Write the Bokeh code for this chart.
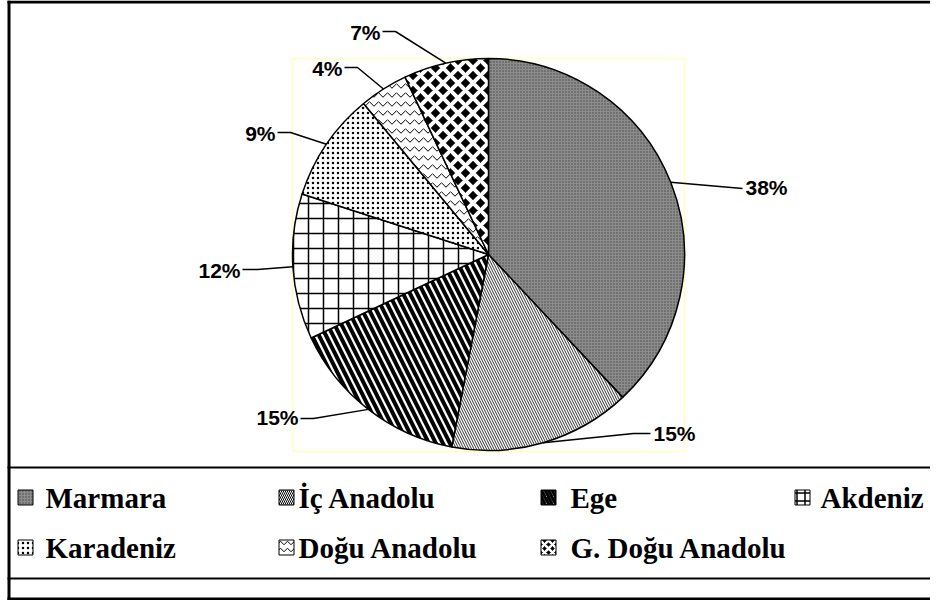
import math
from bokeh.plotting import figure
from bokeh.models import Range1d
from bokeh.embed import file_html
from bokeh.resources import INLINE
from bokeh.core.properties import value

# ---------------- data ----------------
regions = ["Marmara", "İç Anadolu", "Ege", "Akdeniz", "Karadeniz", "Doğu  Anadolu", "G. Doğu Anadolu"]
shares = [38, 15, 15, 12, 9, 4, 7]
pct_labels = ["38%", "15%", "15%", "12%", "9%", "4%", "7%"]

# ---------------- styles ----------------
styles = [
    dict(fill_color="#8c8c8c", hatch_pattern="dot", hatch_scale=3, hatch_weight=0.8, hatch_color="#444444"),
    dict(fill_color="white", hatch_pattern="left_diagonal_line", hatch_scale=5, hatch_weight=0.8, hatch_color="black"),
    dict(fill_color="white", hatch_pattern="left_diagonal_line", hatch_scale=14, hatch_weight=4, hatch_color="black"),
    dict(fill_color="white", hatch_pattern="cross", hatch_scale=15, hatch_weight=1.5, hatch_color="black"),
    dict(fill_color="white", hatch_pattern="dot", hatch_scale=5, hatch_weight=2, hatch_color="black"),
    dict(fill_color="white", hatch_pattern="horizontal_wave", hatch_scale=9, hatch_weight=1, hatch_color="black"),
    dict(fill_color="black", hatch_pattern="diagonal_cross", hatch_scale=15, hatch_weight=4, hatch_color="white"),
]
swatch_scale = [3, 4, 7, 8, 5, 7, 8]
swatch_weight = [0.8, 1, 3, 1.5, 2, 1, 2.5]

W, H = 930, 600
p = figure(width=W, height=H, output_backend="svg", toolbar_location=None,
           x_range=Range1d(0, W), y_range=Range1d(0, H), min_border=0,
           x_axis_location=None, y_axis_location=None)
p.grid.visible = False
p.outline_line_color = None
p.background_fill_color = "white"
p.border_fill_color = "white"


def Y(py):
    return H - py


# frame
p.segment(x0=[8.5, 7, 7, 7, 7], y0=[Y(0), Y(1.5), Y(598.5), Y(467), Y(578)],
          x1=[8.5, W, W, W, W], y1=[Y(600), Y(1.5), Y(598.5), Y(467), Y(578)],
          line_color="black", line_width=[3, 3, 3, 2, 2])

# plot area (pale yellow)
p.quad(left=[292], right=[684], top=[Y(58)], bottom=[Y(451)], fill_color=None,
       line_color="#ffffc0", line_width=1.5)

# pie
cx, cy, r = 488, Y(254), 196
total = float(sum(shares))
cum = 0.0
mids = []
for i, v in enumerate(shares):
    a0 = math.pi / 2 - 2 * math.pi * cum / total
    cum += v
    a1 = math.pi / 2 - 2 * math.pi * cum / total
    mids.append((a0 + a1) / 2)
    p.wedge(x=[cx], y=[cy], radius=r, start_angle=a0, end_angle=a1, direction="clock",
            line_color="black", line_width=1.5, **styles[i])

# labels with leader lines (pixel layout)
label_layout = [
    dict(tx=745, ty=187, align="left", elbow=(742, 188), end=(742, 188)),
    dict(tx=653, ty=433, align="left", elbow=(633, 433), end=(650, 433)),
    dict(tx=298, ty=417, align="right", elbow=(313, 418), end=(300, 418)),
    dict(tx=240, ty=270, align="right", elbow=(257, 269), end=(242, 269)),
    dict(tx=275, ty=133, align="right", elbow=(290, 132), end=(277, 132)),
    dict(tx=342, ty=68, align="right", elbow=(357, 67), end=(344, 67)),
    dict(tx=380, ty=32, align="right", elbow=(395, 31), end=(382, 31)),
]
for i, lay in enumerate(label_layout):
    ex = cx + r * math.cos(mids[i])
    ey = cy + r * math.sin(mids[i])
    p.line(x=[ex, lay["elbow"][0], lay["end"][0]], y=[ey, Y(lay["elbow"][1]), Y(lay["end"][1])],
           line_color="black", line_width=1.5)
    p.text(x=[lay["tx"]], y=[Y(lay["ty"])], text=[pct_labels[i]], text_align=lay["align"],
           text_baseline="middle", text_font=value("Liberation Sans"), text_font_style="bold",
           text_font_size="21px", text_color="black")

# legend
col_sw = [25, 286, 548, 802]
col_tx = [45, 298, 570, 820]
row_y = [497, 547]
for i, name in enumerate(regions):
    c, rr = i % 4, i // 4
    st = dict(styles[i])
    st["hatch_scale"] = swatch_scale[i]
    st["hatch_weight"] = swatch_weight[i]
    p.rect(x=[col_sw[c]], y=[Y(row_y[rr])], width=15, height=15, line_color="black",
           line_width=1, **st)
    p.text(x=[col_tx[c]], y=[Y(row_y[rr])], text=[name], text_align="left", text_baseline="middle",
           text_font=value("Liberation Serif"), text_font_style="bold", text_font_size="29px",
           text_color="black")

open("out.html", "w").write(file_html(p, INLINE))
